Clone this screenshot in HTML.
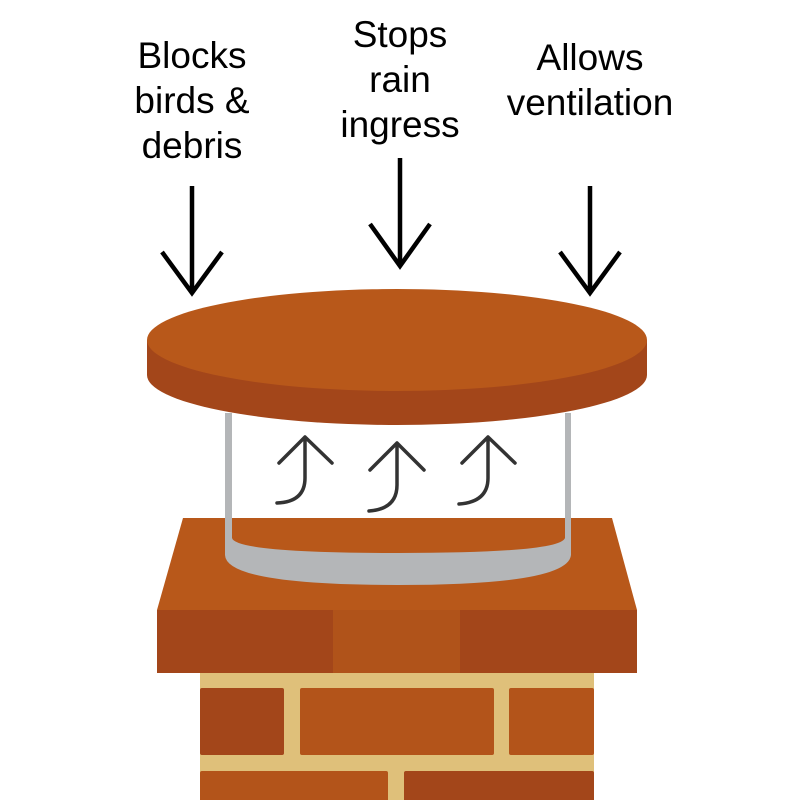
<!DOCTYPE html>
<html><head><meta charset="utf-8"><style>
html,body{margin:0;padding:0;background:#fff;}
svg{display:block;}
text{font-family:"Liberation Sans",sans-serif;font-size:37px;fill:#000;text-anchor:middle;}
</style></head><body>
<svg width="800" height="800" viewBox="0 0 800 800" xmlns="http://www.w3.org/2000/svg">
<rect width="800" height="800" fill="#fff"/>
<!-- labels -->
<text x="192" y="68">Blocks</text>
<text x="192" y="113">birds &amp;</text>
<text x="192" y="158">debris</text>
<text x="400" y="47">Stops</text>
<text x="400" y="92">rain</text>
<text x="400" y="137">ingress</text>
<text x="590" y="70">Allows</text>
<text x="590" y="115">ventilation</text>
<!-- down arrows -->
<g stroke="#000" stroke-width="4.5" fill="none">
<path d="M192 186 V293 M162 252 L192 293 L222 252"/>
<path d="M400 158 V266 M370 224 L400 266 L430 224"/>
<path d="M590 186 V293 M560 252 L590 293 L620 252"/>
</g>
<!-- bricks -->
<rect x="200" y="673" width="394" height="127" fill="#dfc07a"/>
<g>
<rect x="200" y="688" width="84" height="67" rx="2" fill="#a3461a"/>
<rect x="300" y="688" width="194" height="67" rx="2" fill="#b3541a"/>
<rect x="509" y="688" width="85" height="67" rx="2" fill="#b3541a"/>
<rect x="200" y="771" width="188" height="40" rx="2" fill="#b3541a"/>
<rect x="404" y="771" width="190" height="40" rx="2" fill="#a3461a"/>
</g>
<!-- crown -->
<polygon points="183,518 612,518 637,610 157,610" fill="#b8581a"/>
<rect x="157" y="610" width="176" height="63" fill="#a3461a"/>
<rect x="333" y="610" width="127" height="63" fill="#b0531a"/>
<rect x="460" y="610" width="177" height="63" fill="#a3461a"/>
<!-- glass -->
<path d="M225 413 V555 Q226 585 398 585 Q568 585 571 555 V413 H565 V538 Q560 553 398 553 Q236 553 232 538 V413 Z" fill="#b4b6b8"/>
<!-- cap -->
<path d="M147 340 V375 A250 50 0 0 0 647 375 V340 Z" fill="#a3461a"/>
<ellipse cx="397" cy="340" rx="250" ry="51" fill="#b8581a"/>
<!-- up arrows -->
<g stroke="#333" stroke-width="3.5" fill="none" stroke-linecap="round" stroke-linejoin="round">
<path d="M279 463 L305 437 L332 463 M305 437 V478 Q305 502 277 503"/>
<path d="M370 470 L397 443 L424 470 M397 443 V485 Q397 509 369 511"/>
<path d="M462 463 L488 437 L515 463 M488 437 V478 Q488 502 459 504"/>
</g>
</svg>
</body></html>
